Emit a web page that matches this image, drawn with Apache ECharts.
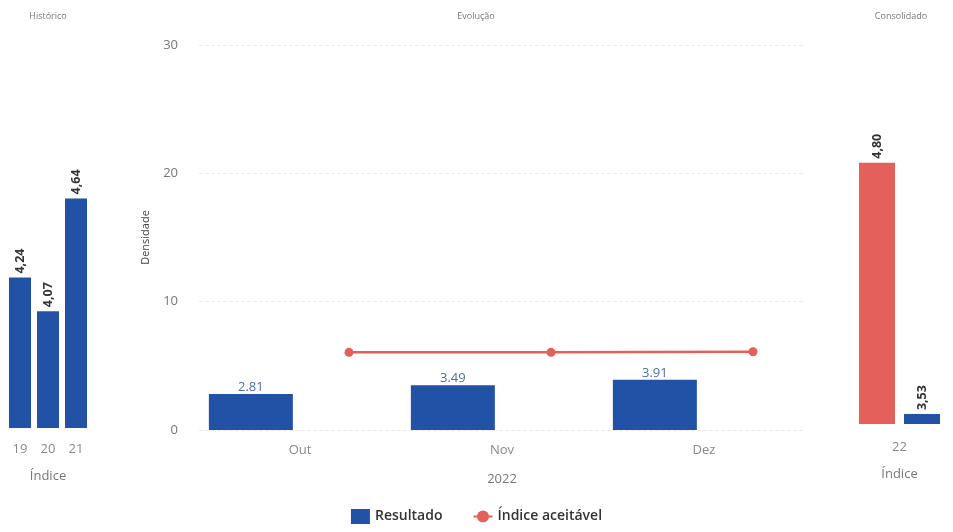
<!DOCTYPE html>
<html>
<head>
<meta charset="utf-8">
<script src="https://cdn.jsdelivr.net/npm/echarts@6/dist/echarts.min.js"></script>
<style>html,body{margin:0;padding:0;background:#fff}#c{width:953px;height:532px}</style>
</head>
<body>
<div id="c"></div>
<script>
// ---- data ----
const histCategories = ['19', '20', '21'];
const histValues = [4.24, 4.07, 4.64];
const evoCategories = ['Out', 'Nov', 'Dez'];
const evoResultado = [2.81, 3.49, 3.91];
const evoIndiceAceitavel = [6.05, 6.05, 6.1];
const consCategories = ['22'];
const consIndiceAceitavel = [4.80];
const consResultado = [3.53];
const evoTicks = [0, 10, 20, 30];

const BLUE = '#2152a6';
const RED = '#e4615b';
const FONT = '"Open Sans", "DejaVu Sans", sans-serif';
const comma = v => v.toFixed(2).replace('.', ',');

const chart = echarts.init(document.getElementById('c'), null, {renderer: 'canvas'});
const rotLabel = {
  show: true, position: 'top', rotate: 90, align: 'left', verticalAlign: 'middle',
  distance: 4, fontSize: 12.5, fontWeight: 'bold', color: '#333', fontFamily: FONT,
  formatter: p => comma(p.value)
};
const catLabel = {color: '#888', fontSize: 13, fontFamily: FONT};
chart.setOption({
  animation: false,
  textStyle: {fontFamily: FONT},
  graphic: [
    {type: 'text', x: 48, y: 12, style: {text: 'Histórico', fill: '#777', font: '9px ' + FONT, textAlign: 'center'}},
    {type: 'text', x: 476, y: 12, style: {text: 'Evolução', fill: '#777', font: '9px ' + FONT, textAlign: 'center'}},
    {type: 'text', x: 901, y: 12, style: {text: 'Consolidado', fill: '#777', font: '9px ' + FONT, textAlign: 'center'}}
  ],
  legend: {
    bottom: 3, left: 'center', itemWidth: 19, itemHeight: 15, itemGap: 30,
    textStyle: {fontSize: 14, color: '#333', fontWeight: 600, fontFamily: FONT},
    data: [{name: 'Resultado', icon: 'rect'}, {name: 'Índice aceitável'}]
  },
  grid: [
    {left: 6, width: 84, top: 48, height: 380},
    {left: 199, width: 606, top: 45, height: 385},
    {left: 248, width: 606, top: 45, height: 385},
    {left: 853, width: 93, top: 44, height: 380}
  ],
  xAxis: [
    {type: 'category', gridIndex: 0, data: histCategories, axisLine: {show: false}, axisTick: {show: false},
     axisLabel: Object.assign({margin: 15}, catLabel), name: 'Índice', nameLocation: 'middle', nameGap: 42,
     nameTextStyle: {color: '#777', fontSize: 13, fontFamily: FONT}},
    {type: 'category', gridIndex: 1, data: evoCategories, axisLine: {show: false}, axisTick: {show: false},
     axisLabel: Object.assign({margin: 14}, catLabel), name: '2022', nameLocation: 'middle', nameGap: 43,
     nameTextStyle: {color: '#777', fontSize: 13, fontFamily: FONT}},
    {type: 'category', gridIndex: 2, data: evoCategories, show: false},
    {type: 'category', gridIndex: 3, data: consCategories, axisLine: {show: false}, axisTick: {show: false},
     axisLabel: Object.assign({margin: 17}, catLabel), name: 'Índice', nameLocation: 'middle', nameGap: 44,
     nameTextStyle: {color: '#777', fontSize: 13, fontFamily: FONT}}
  ],
  yAxis: [
    {type: 'value', gridIndex: 0, min: 3.48, max: 5.4, show: false},
    {type: 'value', gridIndex: 1, min: evoTicks[0], max: evoTicks[evoTicks.length - 1], interval: 10,
     axisLine: {show: false}, axisTick: {show: false},
     axisLabel: {color: '#777', fontSize: 13, margin: 21, fontFamily: FONT},
     splitLine: {lineStyle: {color: '#ececec', type: 'dashed', width: 1}},
     name: 'Densidade', nameLocation: 'middle', nameGap: 48,
     nameTextStyle: {color: '#444', fontSize: 11, fontFamily: FONT}},
    {type: 'value', gridIndex: 2, min: 0, max: 30, show: false},
    {type: 'value', gridIndex: 3, min: 3.48, max: 5.4, show: false}
  ],
  series: [
    {type: 'bar', name: 'Histórico', xAxisIndex: 0, yAxisIndex: 0, data: histValues, barWidth: 22,
     itemStyle: {color: BLUE}, label: rotLabel},
    {type: 'bar', name: 'Resultado', xAxisIndex: 1, yAxisIndex: 1, data: evoResultado, barWidth: 84, barGap: '17%',
     itemStyle: {color: BLUE},
     label: {show: true, position: 'top', distance: 0, color: '#4f6ea3', fontSize: 13, fontFamily: FONT,
             formatter: p => p.value.toFixed(2)}},
    {type: 'bar', name: 'espaço', xAxisIndex: 1, yAxisIndex: 1, data: evoIndiceAceitavel, barWidth: 84,
     itemStyle: {color: 'rgba(0,0,0,0)'}, silent: true},
    {type: 'line', name: 'Índice aceitável', xAxisIndex: 2, yAxisIndex: 2, data: evoIndiceAceitavel,
     symbol: 'circle', symbolSize: 9, lineStyle: {color: RED, width: 2.5}, itemStyle: {color: RED}},
    {type: 'bar', name: 'Índice aceitável (consolidado)', xAxisIndex: 3, yAxisIndex: 3, data: consIndiceAceitavel,
     barWidth: 36, barGap: '25%', itemStyle: {color: RED}, label: rotLabel},
    {type: 'bar', name: 'Resultado (consolidado)', xAxisIndex: 3, yAxisIndex: 3, data: consResultado,
     barWidth: 36, itemStyle: {color: BLUE}, label: rotLabel}
  ]
});
</script>
</body>
</html>
